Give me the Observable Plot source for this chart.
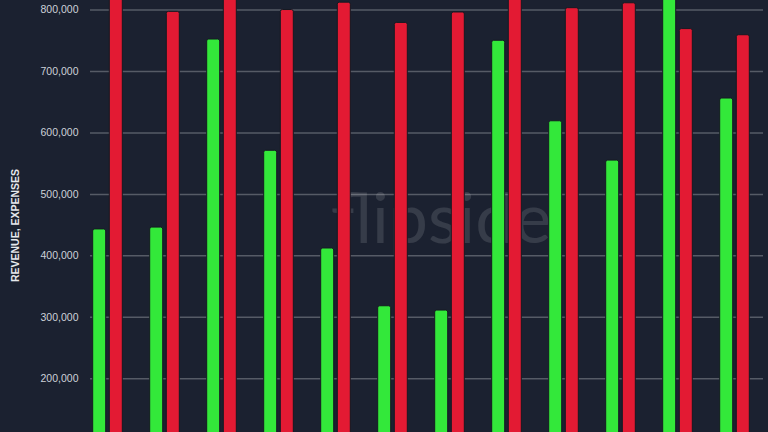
<!DOCTYPE html>
<html>
<head>
<meta charset="utf-8">
<script src="https://cdn.jsdelivr.net/npm/d3@7"></script>
<script src="https://cdn.jsdelivr.net/npm/@observablehq/plot@0.6"></script>
<style>
  html, body { margin: 0; padding: 0; background: #1b2130; }
  #chart { width: 768px; height: 432px; overflow: hidden; }
</style>
</head>
<body>
<div id="chart"></div>
<script>
const months = ["Jan", "Feb", "Mar", "Apr", "May", "Jun", "Jul", "Aug", "Sep", "Oct", "Nov", "Dec"];
const revenue = [443000, 446000, 752000, 571000, 412000, 318000, 311000, 750000, 619000, 555000, 845000, 656000];
const expenses = [830000, 797000, 830000, 800000, 812000, 779000, 796000, 830000, 803000, 811000, 769000, 759000];
const yTicks = [200000, 300000, 400000, 500000, 600000, 700000, 800000];
const yLabel = "REVENUE, EXPENSES";
const watermark = "flipside";

const revData = months.map((m, i) => ({month: m, value: revenue[i]}));
const expData = months.map((m, i) => ({month: m, value: expenses[i]}));

const chart = Plot.plot({
  width: 768,
  height: 432,
  marginLeft: 90,
  marginRight: 5,
  marginTop: 0,
  marginBottom: 0,
  style: {background: "#1b2130", color: "#c9cdd4", fontFamily: "Liberation Sans, Arial, sans-serif"},
  x: {domain: months, axis: null, paddingInner: 0.773, paddingOuter: 0.253, align: 0.33},
  y: {domain: [112600, 815500], axis: null},
  marks: [
    Plot.ruleY(yTicks, {stroke: "#565b66", strokeWidth: 1.5}),
    Plot.axisY(yTicks, {tickSize: 0, tickPadding: 12, tickFormat: d3.format(","), fontSize: 10.5, fill: "#cdd1d8", label: null}),
    Plot.text([yLabel], {frameAnchor: "left", textAnchor: "middle", rotate: -90, dx: -75, dy: 9, fontSize: 10.5, fontWeight: "bold", fill: "#e6e8ec"}),
    Plot.text([watermark], {frameAnchor: "middle", dx: 14, dy: 4, fontSize: 70, fontFamily: "Lato, sans-serif", fontWeight: 400, fill: "#ffffff", fillOpacity: 0.12}),
    Plot.barY(revData, {x: "month", y: "value", dx: -8.3, fill: "#33e83a", stroke: "#151a22", strokeWidth: 1, rx: 2, clip: true}),
    Plot.barY(expData, {x: "month", y: "value", dx: 8.3, fill: "#e31a33", stroke: "#151a22", strokeWidth: 1, rx: 2, clip: true})
  ]
});
document.getElementById("chart").appendChild(chart);
</script>
</body>
</html>
